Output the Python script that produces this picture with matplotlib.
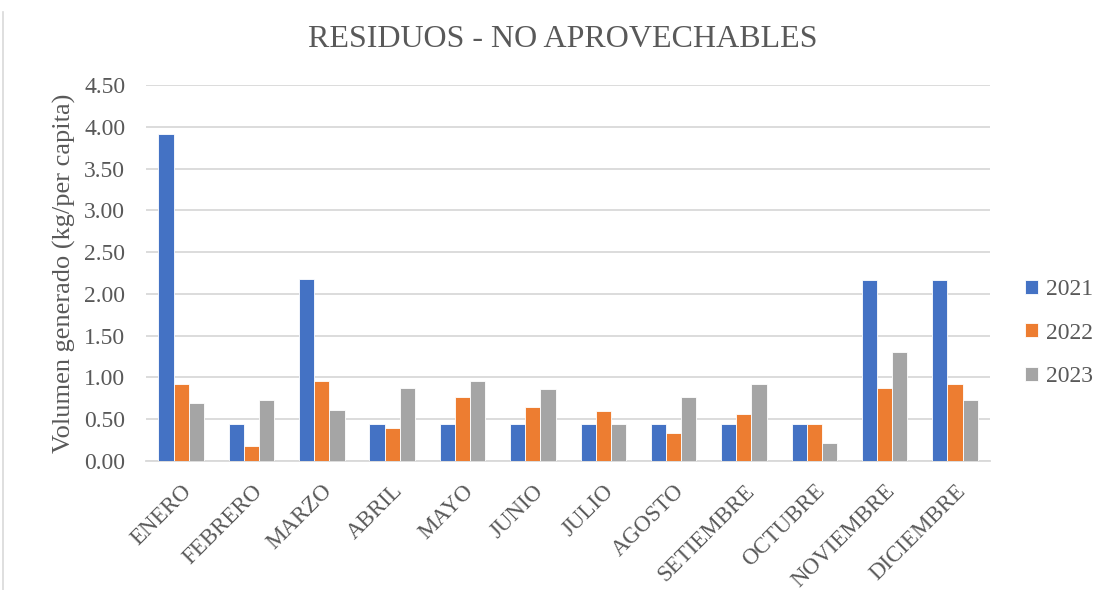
import matplotlib
matplotlib.use("Agg")
import matplotlib.pyplot as plt
import numpy as np

months = ["ENERO", "FEBRERO", "MARZO", "ABRIL", "MAYO", "JUNIO", "JULIO",
          "AGOSTO", "SETIEMBRE", "OCTUBRE", "NOVIEMBRE", "DICIEMBRE"]
v2021 = [3.91, 0.44, 2.18, 0.44, 0.44, 0.44, 0.44, 0.44, 0.44, 0.44, 2.17, 2.17]
v2022 = [0.92, 0.18, 0.96, 0.39, 0.77, 0.65, 0.60, 0.34, 0.56, 0.44, 0.87, 0.92]
v2023 = [0.70, 0.73, 0.61, 0.87, 0.96, 0.86, 0.44, 0.77, 0.92, 0.21, 1.30, 0.73]
series = [("2021", v2021, "#4472C4"), ("2022", v2022, "#ED7D31"), ("2023", v2023, "#A5A5A5")]
yticks = [0.0, 0.5, 1.0, 1.5, 2.0, 2.5, 3.0, 3.5, 4.0, 4.5]

plt.rcParams['font.family'] = ['Liberation Serif', 'DejaVu Serif']
txt = "#595959"

fig = plt.figure(figsize=(11.1, 5.9), dpi=100)
ax = fig.add_axes([0.1315, 0.2186, 0.7605, 0.6374])

x = np.arange(len(months))
w = 0.215
for i, (name, vals, col) in enumerate(series):
    ax.bar(x + (i - 1) * w, vals, width=w, color=col, label=name,
           edgecolor="white", linewidth=0.6, zorder=3)

ax.set_xlim(-0.5, len(months) - 0.5)
ax.set_ylim(0, 4.5)
ax.set_yticks(yticks)
ax.set_yticklabels([f"{t:.2f}" for t in yticks], fontsize=17, color=txt)
ax.yaxis.grid(True, color="#D9D9D9", linewidth=1.3, zorder=0)
ax.set_axisbelow(True)
ax.tick_params(axis="both", length=0)
ax.tick_params(axis="y", pad=15)
ax.set_xticks(x)
ax.set_xticklabels(months, rotation=45, ha="right", rotation_mode="anchor",
                   fontsize=16.5, color=txt)
ax.tick_params(axis="x", pad=14)
for s in ["top", "right", "left"]:
    ax.spines[s].set_visible(False)
ax.spines["bottom"].set_color("#D9D9D9")
ax.spines["bottom"].set_linewidth(1.3)

ax.set_ylabel("Volumen generado (kg/per capita)", fontsize=19, color=txt, labelpad=6)
fig.suptitle("RESIDUOS - NO APROVECHABLES", fontsize=23, color=txt, y=0.958, x=0.507)

leg = ax.legend(loc="center left", bbox_to_anchor=(1.016, 0.34), frameon=False,
                fontsize=17, handlelength=0.55, handleheight=0.55, labelspacing=0.95,
                handletextpad=0.35)
for t in leg.get_texts():
    t.set_color(txt)

fig.add_artist(plt.Line2D([0.003, 0.003], [0.0, 0.98], color="#D9D9D9", linewidth=1.2))

fig.savefig("out.png", dpi=100)
